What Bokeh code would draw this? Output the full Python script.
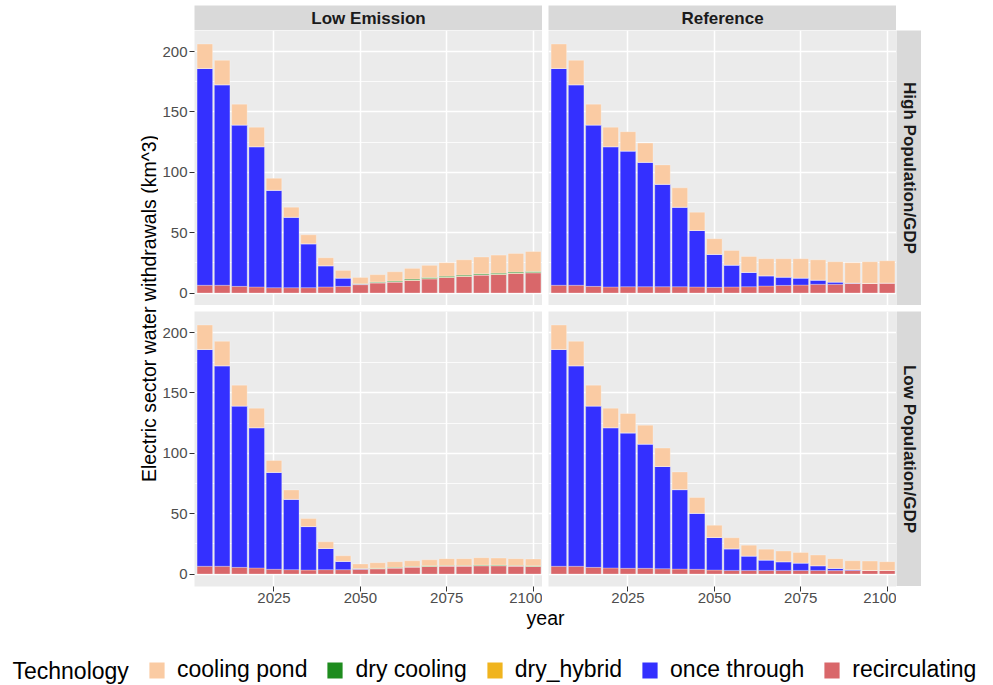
from math import pi
from bokeh.plotting import figure
from bokeh.models import (ColumnDataSource, Range1d, FixedTicker, LinearAxis, Grid,
                          Label, Legend, LegendItem)
from bokeh.layouts import row, column
from bokeh.embed import file_html
from bokeh.resources import INLINE

# ---------------- data ----------------
years = [2005, 2010, 2015, 2020, 2025, 2030, 2035, 2040, 2045, 2050,
         2055, 2060, 2065, 2070, 2075, 2080, 2085, 2090, 2095, 2100]

scenarios = ["Low Emission", "Reference"]
populations = ["High Population/GDP", "Low Population/GDP"]

tech_keys = ["pond", "dry", "hybrid", "once", "recirc"]
tech_labels = ["cooling pond", "dry cooling", "dry_hybrid", "once through", "recirculating"]
tech_colors = ["#FACBA3", "#1E8C1E", "#F0B41E", "#3430FF", "#D9676A"]

x_ticks = [2025, 2050, 2075, 2100]
y_ticks = [0, 50, 100, 150, 200]
y_minor = [25, 75, 125, 175]

# Low Emission / High Population
le_hi_recirc = [6.4, 6.4, 5.5, 5.0, 4.4, 4.4, 4.4, 5.0, 5.5, 6.9, 8.3, 9.1, 10.5, 11.8, 12.9, 13.8, 14.9, 15.4, 16.3, 16.8]
le_hi_once = [179.6, 166.1, 133.7, 116.2, 80.7, 58.4, 36.4, 17.6, 6.9, 0.4, 0.2, 0, 0, 0, 0, 0, 0, 0, 0, 0]
le_hi_hybrid = [0, 0, 0, 0, 0, 0, 0, 0, 0, 0.1, 0.2, 0.2, 0.2, 0.2, 0.2, 0.2, 0.2, 0.2, 0.2, 0.2]
le_hi_dry = [0, 0, 0, 0, 0, 0, 0, 0, 0, 0.3, 0.4, 0.6, 0.8, 0.8, 0.8, 0.8, 0.8, 0.8, 0.8, 0.8]
le_hi_pond = [20.2, 20.2, 17.2, 16.1, 9.9, 8.3, 7.4, 6.6, 6.3, 5.2, 6.1, 7.7, 8.9, 10.1, 11.2, 12.7, 13.9, 15.0, 15.5, 16.6]

# Reference / High Population
ref_hi_recirc = [6.4, 6.4, 5.5, 5.0, 5.2, 5.2, 5.2, 5.2, 5.0, 4.7, 5.0, 5.2, 5.8, 6.3, 6.6, 7.2, 7.2, 8.0, 8.0, 8.3]
ref_hi_once = [179.6, 166.1, 133.7, 116.2, 112.4, 103.1, 84.9, 65.9, 46.8, 27.3, 18.1, 11.9, 8.5, 6.9, 5.8, 3.5, 1.9, 0.3, 0, 0]
ref_hi_hybrid = [0] * 20
ref_hi_dry = [0] * 20
ref_hi_pond = [20.2, 20.2, 17.2, 16.1, 16.0, 15.9, 16.0, 16.0, 15.1, 12.9, 12.2, 13.2, 14.1, 15.2, 16.0, 16.8, 16.8, 16.8, 17.9, 18.4]

# Low Emission / Low Population
le_lo_recirc = [6.4, 6.4, 5.5, 5.0, 3.9, 3.6, 3.3, 3.6, 3.6, 3.9, 4.4, 5.0, 5.8, 6.3, 6.6, 6.6, 6.9, 6.9, 6.6, 6.3]
le_lo_once = [179.6, 166.1, 133.7, 116.2, 80.3, 58.3, 36.0, 17.6, 6.9, 0.4, 0, 0, 0, 0, 0, 0, 0, 0, 0, 0]
le_lo_hybrid = [0, 0, 0, 0, 0, 0, 0, 0, 0, 0.1, 0.1, 0.1, 0.1, 0.1, 0.1, 0.1, 0.1, 0.1, 0.1, 0.1]
le_lo_dry = [0, 0, 0, 0, 0, 0, 0, 0, 0, 0.2, 0.35, 0.4, 0.4, 0.4, 0.4, 0.4, 0.4, 0.4, 0.4, 0.4]
le_lo_pond = [20.2, 20.2, 17.2, 16.1, 9.9, 7.7, 6.6, 5.5, 4.6, 3.7, 4.5, 4.7, 4.7, 5.0, 5.6, 5.6, 6.1, 5.8, 5.6, 5.6]

# Reference / Low Population
ref_lo_recirc = [6.4, 6.4, 5.5, 5.0, 4.7, 4.7, 4.4, 4.1, 3.9, 3.3, 3.0, 3.0, 3.0, 3.0, 3.0, 3.0, 2.8, 3.0, 3.0, 3.0]
ref_lo_once = [179.6, 166.1, 133.7, 116.2, 112.2, 102.9, 84.7, 65.8, 46.4, 27.0, 17.9, 11.9, 8.6, 7.2, 6.1, 3.9, 1.9, 0.6, 0, 0]
ref_lo_hybrid = [0] * 20
ref_lo_dry = [0] * 20
ref_lo_pond = [20.2, 20.2, 17.2, 16.1, 16.0, 15.6, 15.2, 14.6, 13.0, 10.1, 9.1, 9.0, 9.0, 8.8, 8.8, 8.8, 8.0, 7.4, 7.7, 7.2]

panels = {
    (0, 0): dict(pond=le_hi_pond, dry=le_hi_dry, hybrid=le_hi_hybrid, once=le_hi_once, recirc=le_hi_recirc),
    (0, 1): dict(pond=ref_hi_pond, dry=ref_hi_dry, hybrid=ref_hi_hybrid, once=ref_hi_once, recirc=ref_hi_recirc),
    (1, 0): dict(pond=le_lo_pond, dry=le_lo_dry, hybrid=le_lo_hybrid, once=le_lo_once, recirc=le_lo_recirc),
    (1, 1): dict(pond=ref_lo_pond, dry=ref_lo_dry, hybrid=ref_lo_hybrid, once=ref_lo_once, recirc=ref_lo_recirc),
}

# ---------------- style ----------------
FONT = "Liberation Sans"
PANEL_BG = "#EBEBEB"
STRIP_BG = "#D9D9D9"
FW, FH = 348, 275
LEFT_PAD = 36


def base_fig(**kw):
    p = figure(toolbar_location=None, output_backend="svg", min_border=0,
               x_axis_location=None, y_axis_location=None,
               outline_line_color=None, border_fill_color="white", **kw)
    p.grid.visible = False
    return p


def make_panel(r, c):
    p = base_fig(frame_width=FW, frame_height=FH,
                 x_range=Range1d(2002.0, 2102.7), y_range=Range1d(-10.35, 217.4),
                 background_fill_color=PANEL_BG)
    if c == 0:
        p.min_border_left = LEFT_PAD
    p.add_layout(Grid(dimension=1, ticker=FixedTicker(ticks=y_ticks, minor_ticks=y_minor),
                      grid_line_color="white", grid_line_width=1.5,
                      minor_grid_line_color="white", minor_grid_line_width=0.8))
    p.add_layout(Grid(dimension=0, ticker=FixedTicker(ticks=x_ticks),
                      grid_line_color="white", grid_line_width=1.5))
    d = panels[(r, c)]
    src = ColumnDataSource(dict(year=years, **d))
    stack = ["recirc", "once", "hybrid", "dry", "pond"]
    cols = [tech_colors[tech_keys.index(k)] for k in stack]
    p.vbar_stack(stack, x="year", width=4.5, source=src, fill_color=cols,
                 line_color="white", line_width=0.5, line_alpha=0.55)
    if c == 0:
        ax = LinearAxis(ticker=FixedTicker(ticks=y_ticks), axis_line_color=None,
                        major_tick_line_color="#333333", major_tick_out=5, major_tick_in=0,
                        minor_tick_line_color=None, major_label_standoff=2,
                        major_label_text_font=FONT, major_label_text_font_size="15px",
                        major_label_text_color="#4D4D4D")
        p.add_layout(ax, "left")
    if r == 1:
        ax = LinearAxis(ticker=FixedTicker(ticks=x_ticks), axis_line_color=None,
                        major_tick_line_color="#333333", major_tick_out=5, major_tick_in=0,
                        minor_tick_line_color=None, major_label_standoff=1,
                        major_label_text_font=FONT, major_label_text_font_size="15px",
                        major_label_text_color="#4D4D4D")
        p.add_layout(ax, "below")
    return p


def strip_top(text, left_pad):
    s = base_fig(frame_width=FW, frame_height=25, x_range=Range1d(0, 1), y_range=Range1d(0, 1),
                 background_fill_color=STRIP_BG)
    s.min_border_left = left_pad
    s.min_border_top = 5
    s.add_layout(Label(x=0.5, y=0.5, text=text, text_align="center", text_baseline="middle",
                       text_font=FONT, text_font_style="bold", text_font_size="17px",
                       text_color="#1A1A1A"))
    return s


def strip_right(text):
    s = base_fig(frame_width=25, frame_height=FH, x_range=Range1d(0, 1), y_range=Range1d(0, 1),
                 background_fill_color=STRIP_BG)
    s.add_layout(Label(x=0.5, y=0.5, text=text, angle=-pi / 2, text_align="center",
                       text_baseline="middle", text_font=FONT, text_font_style="bold",
                       text_font_size="17px", text_color="#1A1A1A"))
    return s


TL, TR = make_panel(0, 0), make_panel(0, 1)
BL, BR = make_panel(1, 0), make_panel(1, 1)

sTL = strip_top(scenarios[0], LEFT_PAD)
sTR = strip_top(scenarios[1], 0)
sR1 = strip_right(populations[0])
sR2 = strip_right(populations[1])

# y-axis title
YH = 586
ylab = base_fig(frame_width=158, frame_height=YH, x_range=Range1d(0, 158), y_range=Range1d(0, YH))
ylab.add_layout(Label(x=148, y=YH - 308, text="Electric sector water withdrawals (km^3)", angle=pi / 2,
                      text_align="center", text_baseline="middle", text_font=FONT,
                      text_font_size="19.5px", text_color="black"))

# bottom: x title + legend (transparent, pulled up slightly over the tick-label strip)
LW, LH = 985, 85
bot = base_fig(frame_width=LW, frame_height=LH, x_range=Range1d(0, LW), y_range=Range1d(0, LH))
bot.border_fill_alpha = 0
bot.background_fill_alpha = 0
bot.margin = (-6, 0, 0, 0)
bot.add_layout(Label(x=545, y=LH - 18, text="year", text_align="center", text_baseline="middle",
                     text_font=FONT, text_font_size="19.5px", text_color="black"))
bot.add_layout(Label(x=12, y=14, text="Technology", text_align="left", text_baseline="middle",
                     text_font=FONT, text_font_size="23px", text_color="black"))
items = []
for lab, colr in zip(tech_labels, tech_colors):
    # zero-size swatch carrier (draws nothing in the frame)
    rr = bot.vbar(x=[0], top=[0], bottom=[0], width=0, fill_color=colr, line_color=None)
    items.append(LegendItem(label=lab, renderers=[rr]))
leg = Legend(items=items, orientation="horizontal", location=(147, 1),
             glyph_width=19, glyph_height=20, label_standoff=11, spacing=18,
             padding=0, margin=0, border_line_color=None, background_fill_alpha=0,
             label_text_font=FONT, label_text_font_size="23px", label_text_color="black")
bot.add_layout(leg)

top_row = row(sTL, sTR, spacing=6)
mid_row = row(TL, row(TR, sR1), spacing=6)
bot_row = row(BL, row(BR, sR2), spacing=6)
right_col = column(column(top_row, mid_row), bot_row, spacing=6)
main = row(ylab, right_col)
root = column(main, bot)

open("out.html", "w").write(file_html(root, INLINE))
